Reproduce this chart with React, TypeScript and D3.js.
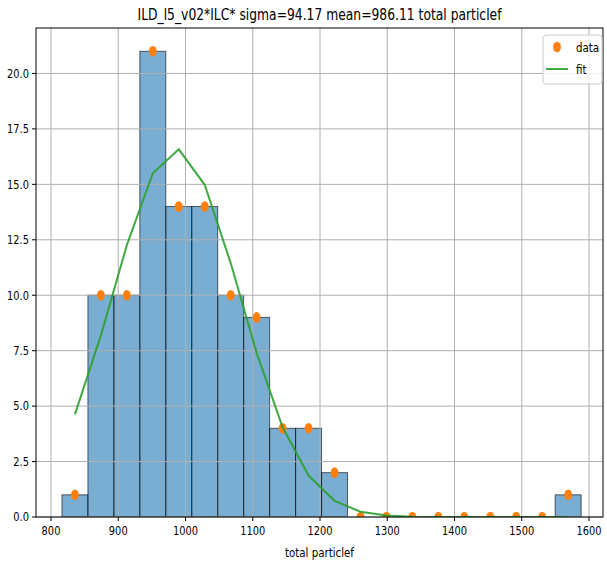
import React from "react";
import * as d3 from "d3";

// Histogram of "total particlef" with per-bin counts and the Gaussian fit.
const binStart = 816.3;
const binWidth = 38.6;
const counts = [1, 10, 10, 21, 14, 14, 10, 9, 4, 4, 2, 0, 0, 0, 0, 0, 0, 0, 0, 1];
const fitValues = [
  4.63, 8.19, 12.26, 15.5, 16.58, 14.98, 11.45, 7.4, 4.04, 1.87, 0.73, 0.24, 0.07,
  0.016, 0, 0, 0, 0, 0, 0,
];
const xTicks = [800, 900, 1000, 1100, 1200, 1300, 1400, 1500, 1600];
const yTicks = [0, 2.5, 5, 7.5, 10, 12.5, 15, 17.5, 20];
const titleText = "ILD_l5_v02*ILC* sigma=94.17 mean=986.11 total particlef";
const xLabel = "total particlef";
const legendLabels = ["data", "fit"];

const W = 607;
const H = 567;
const M = { left: 36, right: 603, top: 28, bottom: 517 };

const FONT = "'DejaVu Sans', sans-serif";
const SX = 0.82;

function CondText(props: {
  x: number;
  y: number;
  size: number;
  anchor?: "start" | "middle" | "end";
  children: string;
}) {
  const { x, y, size, anchor = "start", children } = props;
  return (
    <text
      transform={`translate(${x},${y}) scale(${SX},1)`}
      fontFamily={FONT}
      fontSize={size}
      textAnchor={anchor}
      fill="#000"
    >
      {children}
    </text>
  );
}

export default function App() {
  const x = d3.scaleLinear().domain([777.7, 1620.8]).range([M.left, M.right]);
  const y = d3.scaleLinear().domain([0, 22.05]).range([M.bottom, M.top]);

  const bins = counts.map((c, i) => {
    const x0 = binStart + i * binWidth;
    return { x0, x1: x0 + binWidth, mid: x0 + binWidth / 2, c, fit: fitValues[i] };
  });

  const line = d3
    .line<{ mid: number; fit: number }>()
    .x((d) => x(d.mid))
    .y((d) => y(d.fit));

  return (
    <svg width={W} height={H} style={{ display: "block", position: "absolute", left: 0, top: 0 }}>
      <defs>
        <clipPath id="plotArea">
          <rect x={M.left} y={M.top} width={M.right - M.left} height={M.bottom - M.top} />
        </clipPath>
      </defs>
      <rect width={W} height={H} fill="#fff" />

      {/* bars */}
      <g clipPath="url(#plotArea)">
        {bins
          .filter((b) => b.c > 0)
          .map((b, i) => (
            <rect
              key={i}
              x={x(b.x0)}
              y={y(b.c)}
              width={x(b.x1) - x(b.x0)}
              height={y(0) - y(b.c)}
              fill="#1f77b4"
              fillOpacity={0.6}
              stroke="#000"
              strokeOpacity={0.6}
              strokeWidth={1}
            />
          ))}
      </g>

      {/* grid */}
      <g stroke="#b0b0b0" strokeWidth={1}>
        {xTicks.map((t) => (
          <line key={t} x1={x(t)} x2={x(t)} y1={M.top} y2={M.bottom} />
        ))}
        {yTicks.map((t) => (
          <line key={t} x1={M.left} x2={M.right} y1={y(t)} y2={y(t)} />
        ))}
      </g>

      {/* data points and fit */}
      <g clipPath="url(#plotArea)">
        {bins.map((b, i) => (
          <ellipse key={i} cx={x(b.mid)} cy={y(b.c)} rx={3.9} ry={5.3} fill="#ff7f0e" />
        ))}
        <path d={line(bins) || ""} fill="none" stroke="#2ca02c" strokeWidth={2} strokeOpacity={0.9} />
      </g>

      {/* frame */}
      <rect
        x={M.left}
        y={M.top}
        width={M.right - M.left}
        height={M.bottom - M.top}
        fill="none"
        stroke="#000"
        strokeWidth={1}
      />

      {/* x axis */}
      {xTicks.map((t) => (
        <g key={t}>
          <line x1={x(t)} x2={x(t)} y1={M.bottom} y2={M.bottom + 4} stroke="#000" />
          <CondText x={x(t)} y={M.bottom + 18} size={12} anchor="middle">
            {String(t)}
          </CondText>
        </g>
      ))}
      <CondText x={(M.left + M.right) / 2} y={557} size={12.5} anchor="middle">
        {xLabel}
      </CondText>

      {/* y axis */}
      {yTicks.map((t) => (
        <g key={t}>
          <line x1={M.left - 4} x2={M.left} y1={y(t)} y2={y(t)} stroke="#000" />
          <CondText x={M.left - 7} y={y(t) + 4.3} size={12} anchor="end">
            {t.toFixed(1)}
          </CondText>
        </g>
      ))}

      {/* title */}
      <text
        x={(M.left + M.right) / 2}
        y={20}
        fontFamily={FONT}
        fontSize={15.5}
        textAnchor="middle"
        textLength={364}
        lengthAdjust="spacingAndGlyphs"
      >
        {titleText}
      </text>

      {/* legend */}
      <g>
        <rect x={543} y={35} width={59} height={49} rx={3} fill="#fff" fillOpacity={0.8} stroke="#cccccc" />
        <ellipse cx={557} cy={47} rx={3.9} ry={5.3} fill="#ff7f0e" />
        <CondText x={576} y={52} size={12.5}>
          {legendLabels[0]}
        </CondText>
        <line x1={546} x2={568} y1={69} y2={69} stroke="#2ca02c" strokeWidth={2} strokeOpacity={0.9} />
        <CondText x={576} y={74} size={12.5}>
          {legendLabels[1]}
        </CondText>
      </g>
    </svg>
  );
}
